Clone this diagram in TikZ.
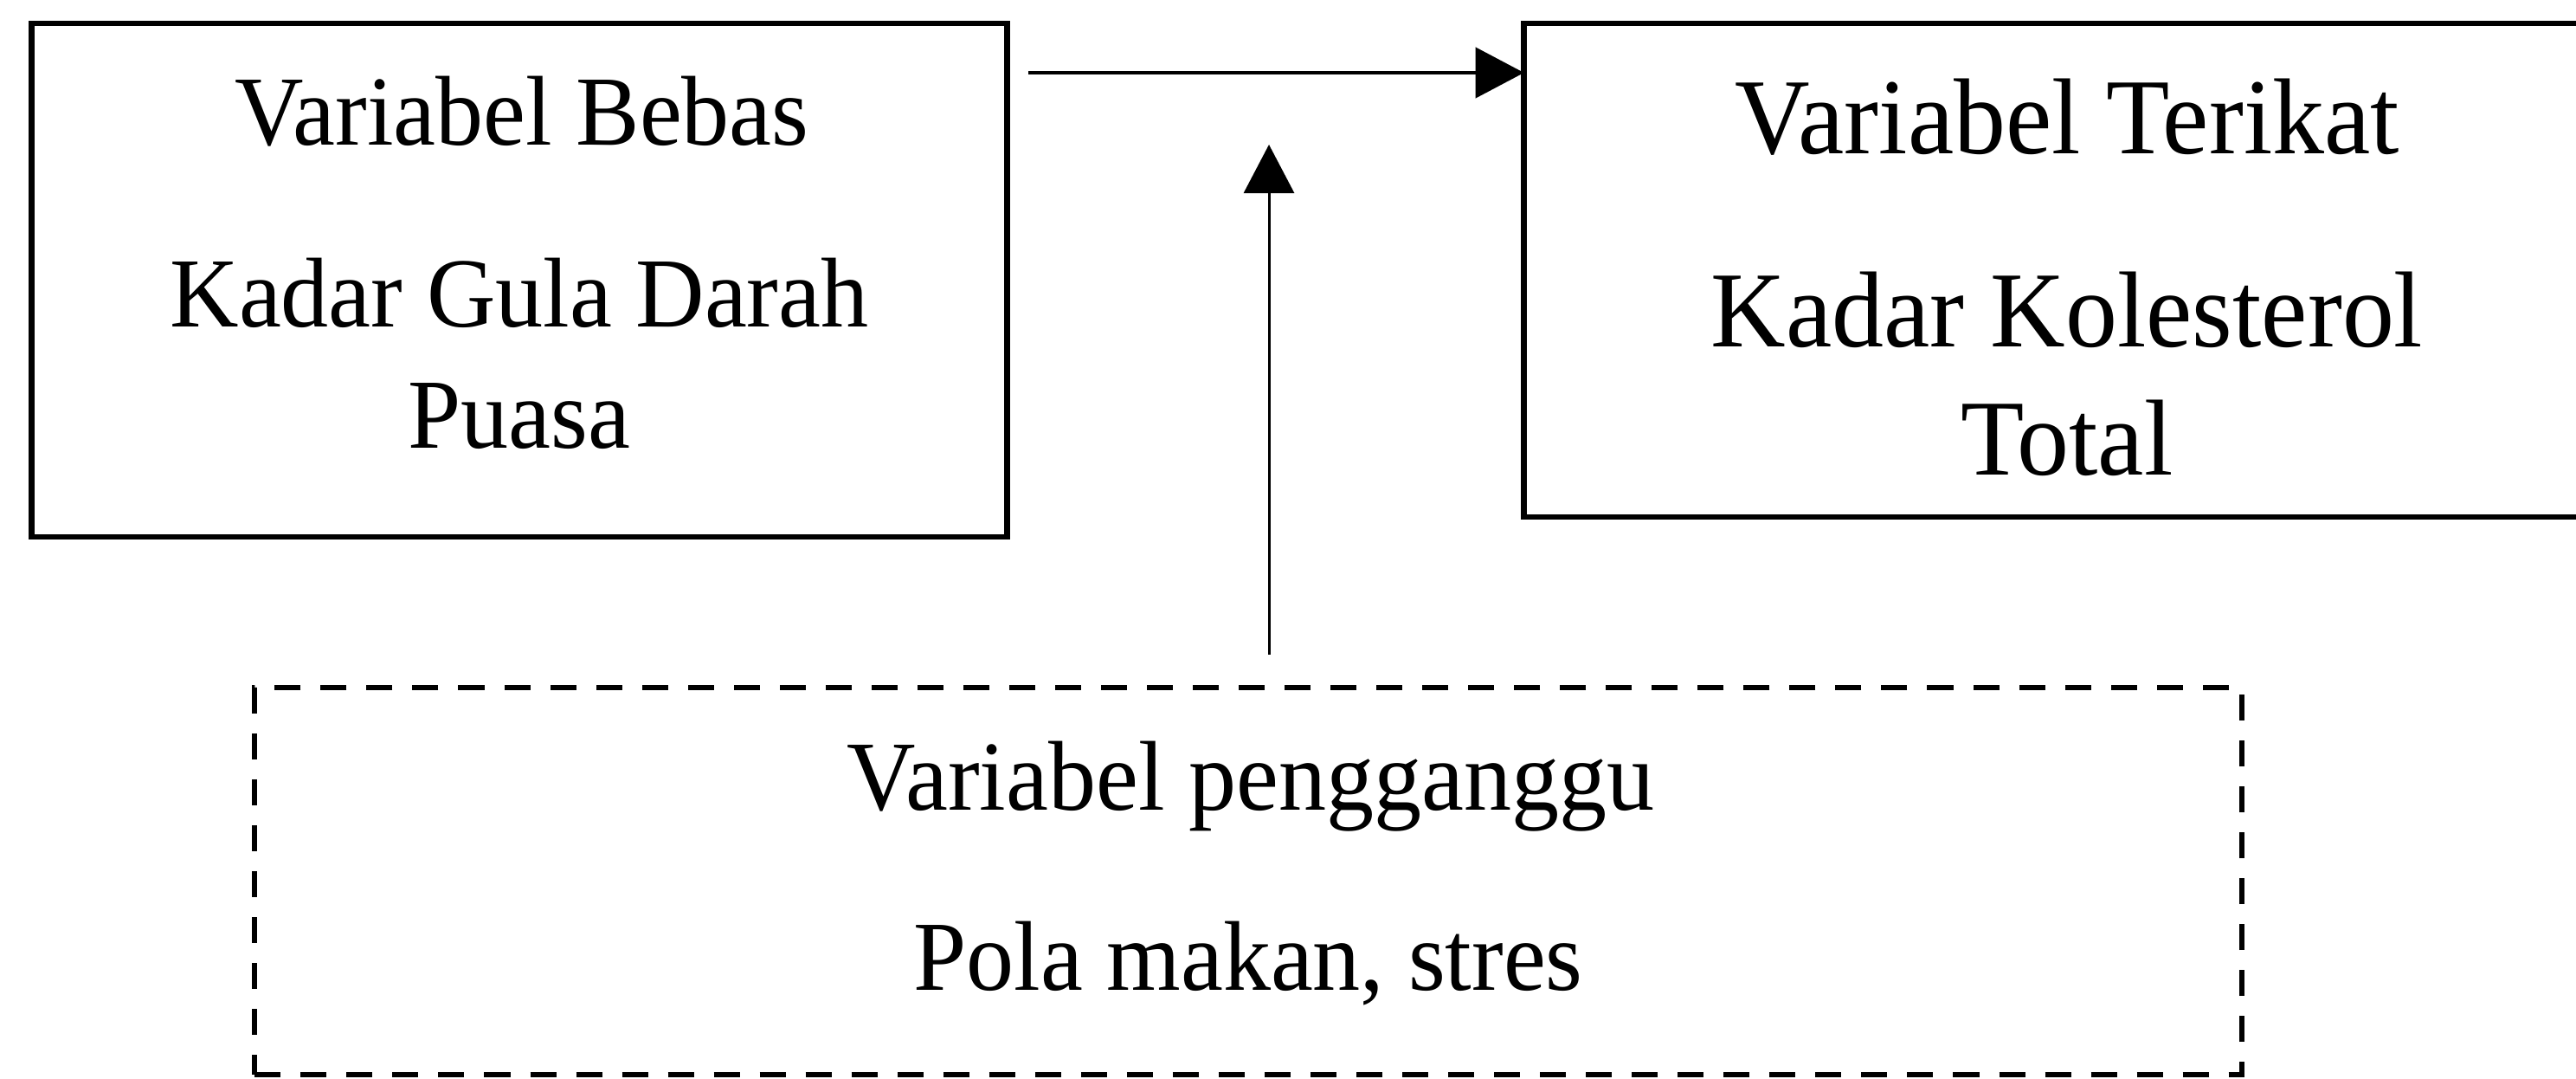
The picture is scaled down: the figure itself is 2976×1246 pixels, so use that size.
\documentclass[tikz,border=0pt]{standalone}
\usepackage{fontspec}
\setmainfont{Liberation Serif}
\usetikzlibrary{arrows.meta}
\newcommand\vstretch[1]{\scalebox{1}[1.04]{#1}}
\begin{document}
\begin{tikzpicture}[x=0.01cm,y=-0.01cm,
  box/.style={draw, line width=0.065cm, outer sep=0pt, inner sep=0pt},
  dbox/.style={draw, line width=0.06cm, dash pattern=on 0.3cm off 0.23cm, outer sep=0pt, inner sep=0pt},
  lbl/.style={anchor=base, inner sep=0pt, font=\fontsize{31.3pt}{36pt}\selectfont},
  lblr/.style={anchor=base, inner sep=0pt, font=\fontsize{34.1pt}{40pt}\selectfont},
  conn/.style={-{Triangle[length=0.56cm,width=0.58cm]}}
]
\useasboundingbox (0,0) rectangle (2976,1246);
\fill[white] (0,0) rectangle (2976,1246);

% boxes
\node[box, minimum width=11.26cm, minimum height=5.93cm] (bebas) at (600,323.5) {};
\node[box, minimum width=12.54cm, minimum height=5.70cm] (terikat) at (2388,312) {};
\node[dbox, minimum width=22.94cm, minimum height=4.47cm] (ganggu) at (1442,1017.5) {};

% texts
\node[lbl] (t1) at (603,168) {\vstretch{Variabel Bebas}};
\node[lbl] (t2) at (600,378) {\vstretch{Kadar Gula Darah}};
\node[lbl] (t3) at (600,517) {\vstretch{Puasa}};
\node[lblr] (r1) at (2388,178) {\vstretch{Variabel Terikat}};
\node[lblr] (r2) at (2388,400) {\vstretch{Kadar Kolesterol}};
\node[lblr] (r3) at (2388,548) {\vstretch{Total}};
\node[lbl] (b1) at (1445,935) {\vstretch{Variabel pengganggu}};
\node[lbl] (b2) at (1442,1143) {\vstretch{Pola makan, stres}};

% connectors
\coordinate (hy) at (0,84);
\coordinate (vtip) at (1466,167);
\draw[conn, line width=0.045cm] ([xshift=0.25cm]bebas.east |- hy) -- (terikat.west |- hy);
\draw[conn, line width=0.03cm] ([yshift=0.38cm]ganggu.north -| vtip) -- (vtip);
\end{tikzpicture}
\end{document}
